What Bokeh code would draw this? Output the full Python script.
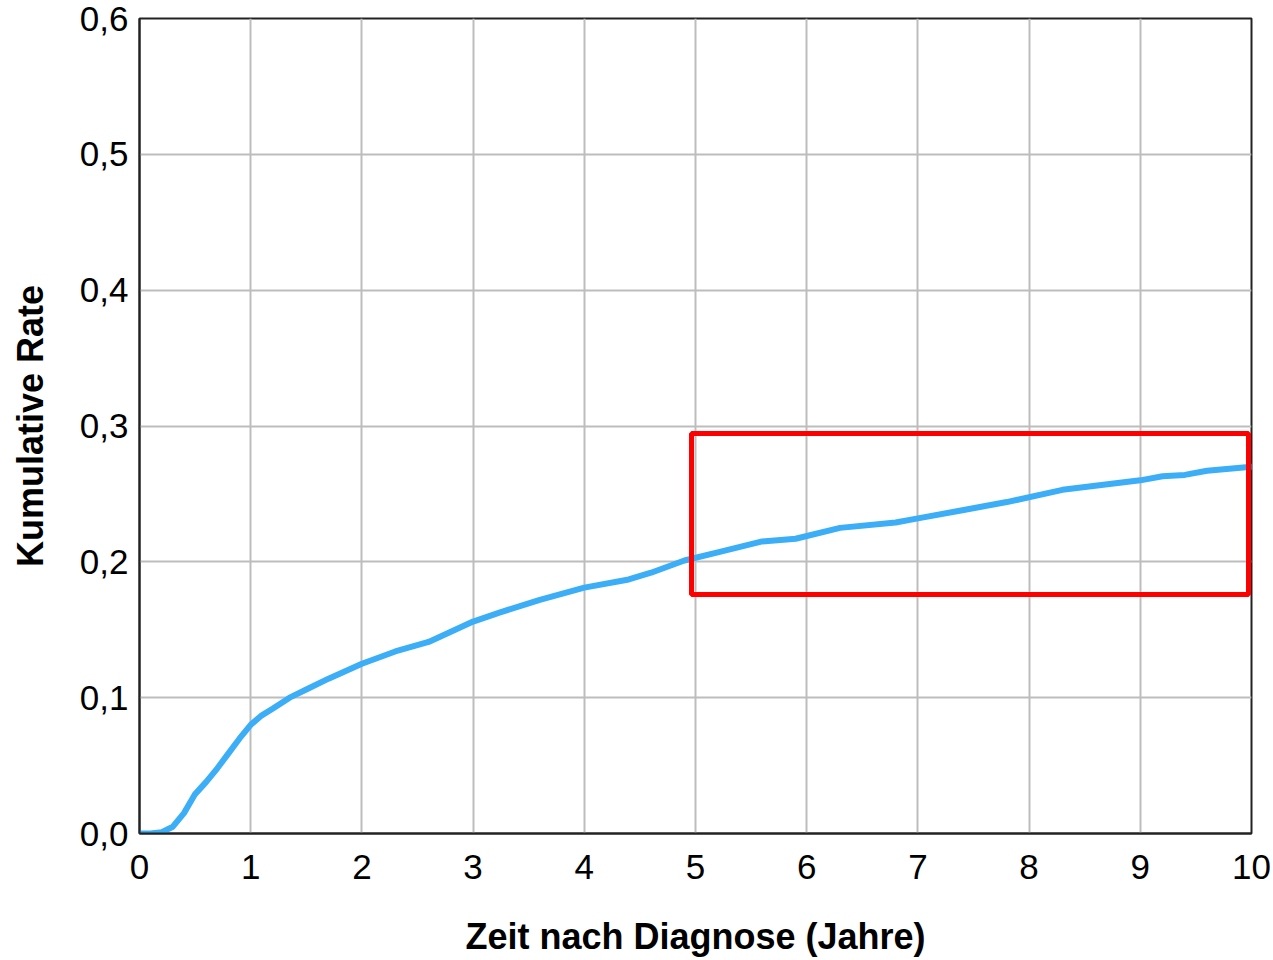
from bokeh.plotting import figure
from bokeh.models import Range1d, FixedTicker, BoxAnnotation
from bokeh.embed import file_html
from bokeh.resources import INLINE

# Cumulative incidence over time since diagnosis
years = [0, 0.1, 0.2, 0.3, 0.4, 0.5, 0.6, 0.7, 0.8, 0.9, 1.0, 1.1, 1.2, 1.35, 1.5,
         1.7, 2.0, 2.3, 2.6, 3.0, 3.25, 3.6, 4.0, 4.4, 4.6, 4.9, 5.2, 5.6, 5.9,
         6.3, 6.8, 7.0, 7.4, 7.8, 8.3, 9.0, 9.2, 9.4, 9.6, 10.0]
cum_rate = [0.0, 0.0, 0.001, 0.005, 0.015, 0.029, 0.038, 0.048, 0.059, 0.070, 0.080,
            0.087, 0.092, 0.100, 0.106, 0.114, 0.125, 0.134, 0.141, 0.156, 0.163,
            0.172, 0.181, 0.187, 0.192, 0.201, 0.207, 0.215, 0.217, 0.225, 0.229,
            0.232, 0.238, 0.244, 0.253, 0.260, 0.263, 0.264, 0.267, 0.270]

x_ticks = [0, 1, 2, 3, 4, 5, 6, 7, 8, 9, 10]
y_ticks = [0.0, 0.1, 0.2, 0.3, 0.4, 0.5, 0.6]
y_tick_labels = ["0,0", "0,1", "0,2", "0,3", "0,4", "0,5", "0,6"]

# Highlighted window (years 5-10)
highlight = dict(left=4.964, right=9.973, bottom=0.176, top=0.2945)

p = figure(width=1273, height=960, output_backend="svg", toolbar_location=None,
           x_range=Range1d(0, 10), y_range=Range1d(0, 0.6),
           min_border_left=139, min_border_right=22, min_border_top=18,
           min_border_bottom=127)

p.background_fill_color = "white"
p.border_fill_color = "white"
p.outline_line_color = "#222222"
p.outline_line_width = 2

p.line(years, cum_rate, line_color="#3BAEF7", line_width=6,
       line_cap="round", line_join="round")

box = BoxAnnotation(**highlight, fill_alpha=0, line_color="#FF0000",
                    line_width=5, line_alpha=1)
p.add_layout(box)

for ax in (p.xaxis[0], p.yaxis[0]):
    ax.axis_line_color = "#222222"
    ax.axis_line_width = 2
    ax.major_tick_line_color = None
    ax.minor_tick_line_color = None
    ax.major_label_text_font = "Liberation Sans"
    ax.major_label_text_font_size = "35px"
    ax.major_label_text_color = "black"
    ax.axis_label_text_font = "Liberation Sans"
    ax.axis_label_text_font_style = "bold"
    ax.axis_label_text_font_size = "36px"
    ax.axis_label_text_color = "black"

p.xaxis.ticker = FixedTicker(ticks=x_ticks)
p.yaxis.ticker = FixedTicker(ticks=y_ticks)
p.yaxis.major_label_overrides = {t: s for t, s in zip(y_ticks, y_tick_labels)}
p.xaxis.major_label_standoff = 15
p.yaxis.major_label_standoff = 5
p.xaxis.axis_label = "Zeit nach Diagnose (Jahre)"
p.yaxis.axis_label = "Kumulative Rate"
p.xaxis.axis_label_standoff = 34
p.yaxis.axis_label_standoff = 26

for g in (p.xgrid[0], p.ygrid[0]):
    g.grid_line_color = "#BDBDBD"
    g.grid_line_width = 2
p.xgrid.ticker = FixedTicker(ticks=x_ticks)
p.ygrid.ticker = FixedTicker(ticks=y_ticks)

open("out.html", "w").write(file_html(p, INLINE))
